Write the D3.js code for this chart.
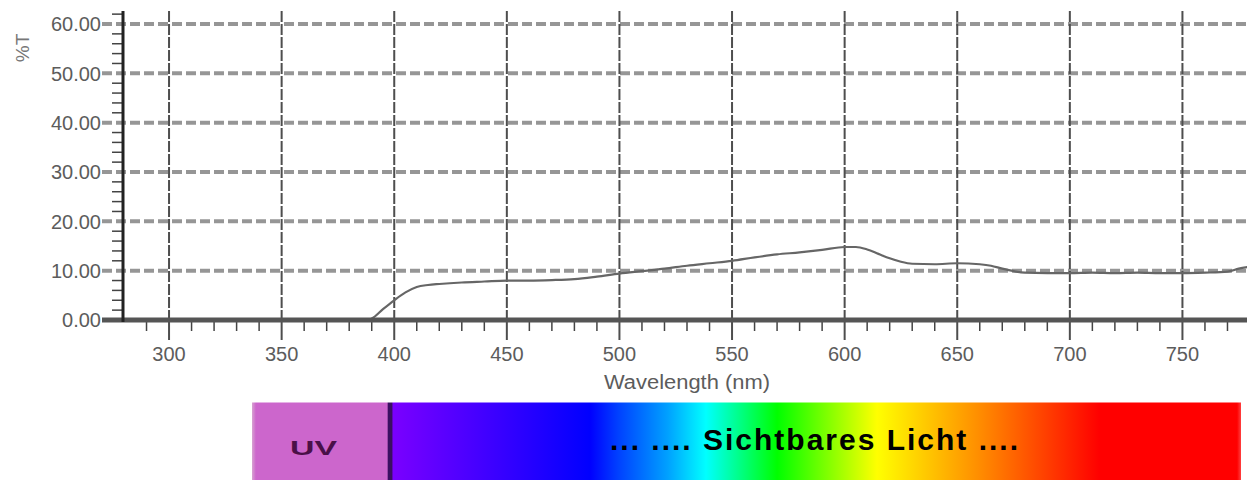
<!DOCTYPE html>
<html>
<head>
<meta charset="utf-8">
<script src="https://cdn.jsdelivr.net/npm/d3@7"></script>
<style>
  html, body { margin: 0; padding: 0; background: #fff; }
  svg { display: block; }
  text { font-family: "Liberation Sans", Arial, sans-serif; }
</style>
</head>
<body>
<svg id="chart" width="1247" height="480"></svg>
<script>
// ---- data ----
const wavelengths = [280, 300, 350, 388, 390, 395, 400, 405, 410, 415, 420, 430, 440, 450, 460, 470, 480, 490, 500, 510, 520, 530, 540, 550, 560, 570, 580, 590, 600, 605, 610, 615, 620, 625, 630, 640, 650, 660, 665, 670, 675, 680, 690, 700, 710, 720, 730, 740, 750, 760, 770, 775, 780];
const transmission = [0, 0, 0, 0, 0.3, 2.2, 4.0, 5.6, 6.7, 7.1, 7.3, 7.6, 7.8, 8.0, 8.0, 8.1, 8.3, 8.8, 9.4, 9.9, 10.4, 11.0, 11.5, 12.0, 12.7, 13.3, 13.7, 14.2, 14.8, 14.8, 14.3, 13.4, 12.5, 11.8, 11.4, 11.3, 11.5, 11.3, 11.0, 10.4, 9.9, 9.6, 9.5, 9.5, 9.6, 9.5, 9.6, 9.5, 9.5, 9.6, 9.8, 10.4, 10.8];
const xTicks = [300, 350, 400, 450, 500, 550, 600, 650, 700, 750];
const yTicks = [0, 10, 20, 30, 40, 50, 60];
const yTickLabels = ["0.00", "10.00", "20.00", "30.00", "40.00", "50.00", "60.00"];
const xTitle = "Wavelength (nm)";
const yTitle = "%T";
const uvLabel = "UV";
const visibleLabel = "... .... Sichtbares Licht ....";
const spectrumOffsets = [0, 0.004, 0.1365, 0.138, 0.1415, 0.1425, 0.342, 0.37, 0.42, 0.459, 0.531, 0.632, 0.736, 0.857, 0.996, 1];
const spectrumColors = ["#d7a3d0", "#cc66cc", "#cc66cc", "#3b0f62", "#3b0f62", "#7a00ff", "#0000ff", "#0040ff", "#00a0ff", "#00ffff", "#00ff00", "#ffff00", "#ff8c00", "#ff0000", "#ff0000", "#ff4040"];

// ---- layout ----
const svg = d3.select("#chart");
const x = d3.scaleLinear().domain([280, 780]).range([124, 1250]);
const y = d3.scaleLinear().domain([0, 60]).range([320, 24]);
const plotTop = 11;
const textColor = "#5c5c5c";

// horizontal grid lines (dashed, light grey, thick)
svg.append("g").selectAll("line")
  .data(yTicks.filter(d => d > 0))
  .join("line")
  .attr("x1", 102).attr("x2", 1247)
  .attr("y1", d => y(d)).attr("y2", d => y(d))
  .attr("stroke", "#969696").attr("stroke-width", 4)
  .attr("stroke-dasharray", "10,4");

// vertical grid lines (dashed, darker)
svg.append("g").selectAll("line")
  .data(xTicks)
  .join("line")
  .attr("x1", d => x(d)).attr("x2", d => x(d))
  .attr("y1", plotTop).attr("y2", y(0))
  .attr("stroke", "#4e4e4e").attr("stroke-width", 2)
  .attr("stroke-dasharray", "11,2");

// major tick extension below axis
svg.append("g").selectAll("line")
  .data(xTicks)
  .join("line")
  .attr("x1", d => x(d)).attr("x2", d => x(d))
  .attr("y1", y(0)).attr("y2", 340)
  .attr("stroke", "#4e4e4e").attr("stroke-width", 2);

// minor x ticks
const xMinor = d3.range(290, 780, 10).filter(d => d % 50 !== 0);
svg.append("g").selectAll("line")
  .data(xMinor)
  .join("line")
  .attr("x1", d => x(d)).attr("x2", d => x(d))
  .attr("y1", y(0)).attr("y2", 331)
  .attr("stroke", "#444").attr("stroke-width", 1.5);

// minor y ticks
const yMinor = d3.range(2, 63, 2).filter(d => d % 10 !== 0);
svg.append("g").selectAll("line")
  .data(yMinor)
  .join("line")
  .attr("x1", 112).attr("x2", 123)
  .attr("y1", d => y(d)).attr("y2", d => y(d))
  .attr("stroke", "#444").attr("stroke-width", 1.5);

// curve
const pts = wavelengths.map((w, i) => [w, transmission[i]]);
const line = d3.line().x(d => x(d[0])).y(d => y(d[1])).curve(d3.curveMonotoneX);
svg.append("path")
  .datum(pts)
  .attr("d", line)
  .attr("fill", "none")
  .attr("stroke", "#666")
  .attr("stroke-width", 2.2);

// x axis line (thick)
svg.append("line")
  .attr("x1", 102).attr("x2", 1247)
  .attr("y1", y(0)).attr("y2", y(0))
  .attr("stroke", "#555").attr("stroke-width", 5);

// y axis line
svg.append("line")
  .attr("x1", 123).attr("x2", 123)
  .attr("y1", plotTop).attr("y2", y(0) + 2)
  .attr("stroke", "#222").attr("stroke-width", 3);

// y tick labels
svg.append("g").selectAll("text")
  .data(yTicks)
  .join("text")
  .attr("x", 101).attr("y", d => y(d))
  .attr("dy", "0.36em")
  .attr("text-anchor", "end")
  .attr("font-size", 20)
  .attr("fill", textColor)
  .text((d, i) => yTickLabels[i]);

// x tick labels
svg.append("g").selectAll("text")
  .data(xTicks)
  .join("text")
  .attr("x", d => x(d)).attr("y", 354)
  .attr("dy", "0.36em")
  .attr("text-anchor", "middle")
  .attr("font-size", 20)
  .attr("fill", textColor)
  .text(d => d);

// axis titles
svg.append("text")
  .attr("x", 604).attr("y", 382)
  .attr("dy", "0.36em")
  .attr("font-size", 20)
  .attr("fill", textColor)
  .attr("textLength", 166)
  .attr("lengthAdjust", "spacingAndGlyphs")
  .text(xTitle);

svg.append("text")
  .attr("transform", "translate(22,48) rotate(-90)")
  .attr("dy", "0.36em")
  .attr("text-anchor", "middle")
  .attr("font-size", 19)
  .attr("fill", "#777")
  .text(yTitle);

// spectrum bar
const defs = svg.append("defs");
const grad = defs.append("linearGradient").attr("id", "spec")
  .attr("x1", "0%").attr("x2", "100%").attr("y1", "0%").attr("y2", "0%");
grad.selectAll("stop")
  .data(spectrumOffsets)
  .join("stop")
  .attr("offset", d => d)
  .attr("stop-color", (d, i) => spectrumColors[i]);

svg.append("rect")
  .attr("x", 252).attr("y", 402.5)
  .attr("width", 989).attr("height", 78)
  .attr("fill", "url(#spec)");

svg.append("text")
  .attr("x", 290).attr("y", 455)
  .attr("font-size", 21)
  .attr("font-weight", "bold")
  .attr("fill", "#4a1048")
  .attr("textLength", 47)
  .attr("lengthAdjust", "spacingAndGlyphs")
  .text(uvLabel);

svg.append("text")
  .attr("x", 610).attr("y", 450)
  .attr("font-size", 30)
  .attr("font-weight", "bold")
  .attr("fill", "#000")
  .attr("textLength", 408)
  .attr("lengthAdjust", "spacing")
  .text(visibleLabel);
</script>
</body>
</html>
